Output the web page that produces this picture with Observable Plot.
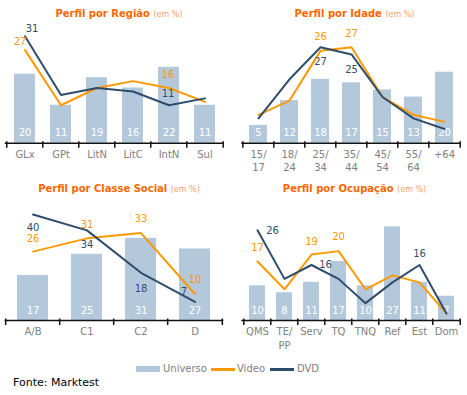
<!DOCTYPE html>
<html><head><meta charset="utf-8">
<script src="https://cdn.jsdelivr.net/npm/d3@7"></script>
<script src="https://cdn.jsdelivr.net/npm/@observablehq/plot@0.6"></script>
<style>
body{margin:0;background:#fff;}
#root{position:relative;width:467px;height:395px;overflow:hidden;font-family:"DejaVu Sans",Verdana,sans-serif;}
.title{position:absolute;text-align:center;font-weight:bold;color:#ff6600;font-size:10px;line-height:12px;white-space:nowrap;}
.title span{font-weight:normal;font-size:8px;color:#ffa066;}
.panel{position:absolute;}
.leg{position:absolute;font-size:10px;line-height:12px;color:#808080;white-space:nowrap;}
.sw{position:absolute;}
#fonte{position:absolute;left:13px;top:376px;font-size:11px;line-height:13px;color:#000;}
</style></head>
<body><div id="root"></div>
<script>
// ---- data ----
const regiaoCats = ["GLx","GPt","LitN","LitC","IntN","Sul"];
const regiaoUniverso = [20,11,19,16,22,11];
const regiaoVideo = [27,11,16,18,16,12];
const regiaoDVD = [31,14,16,15,11,13];

const idadeCats = ["15/\n17","18/\n24","25/\n34","35/\n44","45/\n54","55/\n64","+64"];
const idadeUniverso = [5,12,18,17,15,13,20];
const idadeVideo = [8,12,26,27,13,8,6];
const idadeDVD = [7,18,27,25,13,7,4];

const classeCats = ["A/B","C1","C2","D"];
const classeUniverso = [17,25,31,27];
const classeVideo = [26,31,33,10];
const classeDVD = [40,34,18,7];

const ocupCats = ["QMS","TE/\nPP","Serv","TQ","TNQ","Ref","Est","Dom"];
const ocupUniverso = [10,8,11,17,10,27,11,7];
const ocupVideo = [17,9,19,20,9,13,11,2];
const ocupDVD = [26,12,16,12,5,11,16,2];

const titles = ["Perfil por Região","Perfil por Idade","Perfil por Classe Social","Perfil por Ocupação"];
const titleUnit = "(em %)";
const seriesNames = ["Universo","Video","DVD"];
const source = "Fonte: Marktest";

// ---- style ----
const BAR = "#b4c8dc", ORANGE = "#ff9900", NAVY = "#2e4d6d", AXIS = "#111";
const root = document.getElementById("root");

function panel(cfg) {
  const {cats, universo, video, dvd, vOff, dOff, left, top, width, height, mt, mb, ml, mr, ymax} = cfg;
  const rows = cats.map((c, i) => ({c, u: universo[i], v: video[i], d: dvd[i]}));
  const n = cats.length;
  const step = (width - ml - mr) / n;
  const labelMarks = [];
  for (const [c, [dx, dy]] of Object.entries(vOff))
    labelMarks.push(Plot.text(rows.filter(r => r.c === c), {x: "c", y: "v", text: d => String(d.v), dx, dy, fill: ORANGE}));
  for (const [c, [dx, dy]] of Object.entries(dOff))
    labelMarks.push(Plot.text(rows.filter(r => r.c === c), {x: "c", y: "d", text: d => String(d.d), dx, dy, fill: NAVY}));
  const svg = Plot.plot({
    width, height, marginTop: mt, marginBottom: mb, marginLeft: ml, marginRight: mr,
    style: {fontFamily: "DejaVu Sans, sans-serif", fontSize: "10px", background: "transparent", overflow: "visible"},
    x: {domain: cats, paddingInner: 0.42, paddingOuter: 0.21, axis: null, label: null},
    y: {domain: [0, ymax], axis: null},
    marks: [
      Plot.barY(rows, {x: "c", y: "u", fill: BAR}),
      Plot.text(rows, {x: "c", y: 0, text: d => String(d.u), dy: -10, fill: "white"}),
      Plot.ruleY([0], {stroke: AXIS, strokeWidth: 1.5}),
      Plot.ruleX(cats, {x: d => d, dx: -step / 2, y1: 0, y2: 0, insetTop: -1.5, insetBottom: -5, stroke: AXIS, strokeWidth: 1.5}),
      Plot.ruleX([cats[n - 1]], {x: d => d, dx: step / 2, y1: 0, y2: 0, insetTop: -1.5, insetBottom: -5, stroke: AXIS, strokeWidth: 1.5}),
      Plot.axisX({tickSize: 0, tickPadding: 5.5, fill: "#808080", lineHeight: 1.33, fontSize: 10, label: null}),
      Plot.line(rows, {x: "c", y: "v", stroke: ORANGE, strokeWidth: 2}),
      Plot.line(rows, {x: "c", y: "d", stroke: NAVY, strokeWidth: 2}),
      ...labelMarks
    ]
  });
  const div = document.createElement("div");
  div.className = "panel";
  div.style.left = left + "px"; div.style.top = top + "px";
  div.appendChild(svg);
  root.appendChild(div);
}

function title(text, left, width, top) {
  const d = document.createElement("div");
  d.className = "title";
  d.style.left = left + "px"; d.style.width = width + "px"; d.style.top = top + "px";
  d.appendChild(document.createTextNode(text + " "));
  const s = document.createElement("span"); s.textContent = titleUnit; d.appendChild(s);
  root.appendChild(d);
}

panel({cats: regiaoCats, universo: regiaoUniverso, video: regiaoVideo, dvd: regiaoDVD,
  vOff: {"GLx": [-5, -8], "IntN": [-1, -13]}, dOff: {"GLx": [7, -7], "IntN": [-1, -11]},
  left: 0, top: 0, width: 230, height: 175, mt: 22, mb: 32.3, ml: 4.7, mr: 6.7, ymax: 35});
panel({cats: idadeCats, universo: idadeUniverso, video: idadeVideo, dvd: idadeDVD,
  vOff: {"25/\n34": [0, -14], "35/\n44": [0, -14]}, dOff: {"25/\n34": [0, 14], "35/\n44": [0, 15]},
  left: 234, top: 0, width: 233, height: 175, mt: 25.5, mb: 32.3, ml: 7.3, mr: 6.3, ymax: 33});
panel({cats: classeCats, universo: classeUniverso, video: classeVideo, dvd: classeDVD,
  vOff: {"A/B": [0, -12.5], "C1": [0, -14], "C2": [0, -14], "D": [0, -14]},
  dOff: {"A/B": [0, 13.5], "C1": [0, 14], "C2": [0, 16], "D": [-11, -10]},
  left: 0, top: 178, width: 230, height: 175, mt: 25.4, mb: 33, ml: 4.7, mr: 6.7, ymax: 44});
panel({cats: ocupCats, universo: ocupUniverso, video: ocupVideo, dvd: ocupDVD,
  vOff: {"QMS": [0, -14], "Serv": [0, -13], "TQ": [0, -14]},
  dOff: {"QMS": [15, 0], "Serv": [14, 0], "Est": [0, -11]},
  left: 234, top: 178, width: 233, height: 175, mt: 31, mb: 33, ml: 7.3, mr: 6.3, ymax: 32});

title(titles[0], 4, 230, 8);
title(titles[1], 238, 233, 8);
title(titles[2], 4, 230, 183);
title(titles[3], 238, 233, 183);

// legend
function sw(left, top, w, h, color) {
  const d = document.createElement("div"); d.className = "sw";
  Object.assign(d.style, {left: left + "px", top: top + "px", width: w + "px", height: h + "px", background: color});
  root.appendChild(d);
}
function leg(text, left, top) {
  const d = document.createElement("div"); d.className = "leg";
  d.style.left = left + "px"; d.style.top = top + "px"; d.textContent = text; root.appendChild(d);
}
sw(136, 366, 24, 6, BAR); leg(seriesNames[0], 163, 363);
sw(211, 368, 24, 2.5, ORANGE); leg(seriesNames[1], 237, 363);
sw(270, 368, 24, 2.5, NAVY); leg(seriesNames[2], 297, 363);

const f = document.createElement("div"); f.id = "fonte"; f.textContent = source; root.appendChild(f);
</script>
</body></html>
